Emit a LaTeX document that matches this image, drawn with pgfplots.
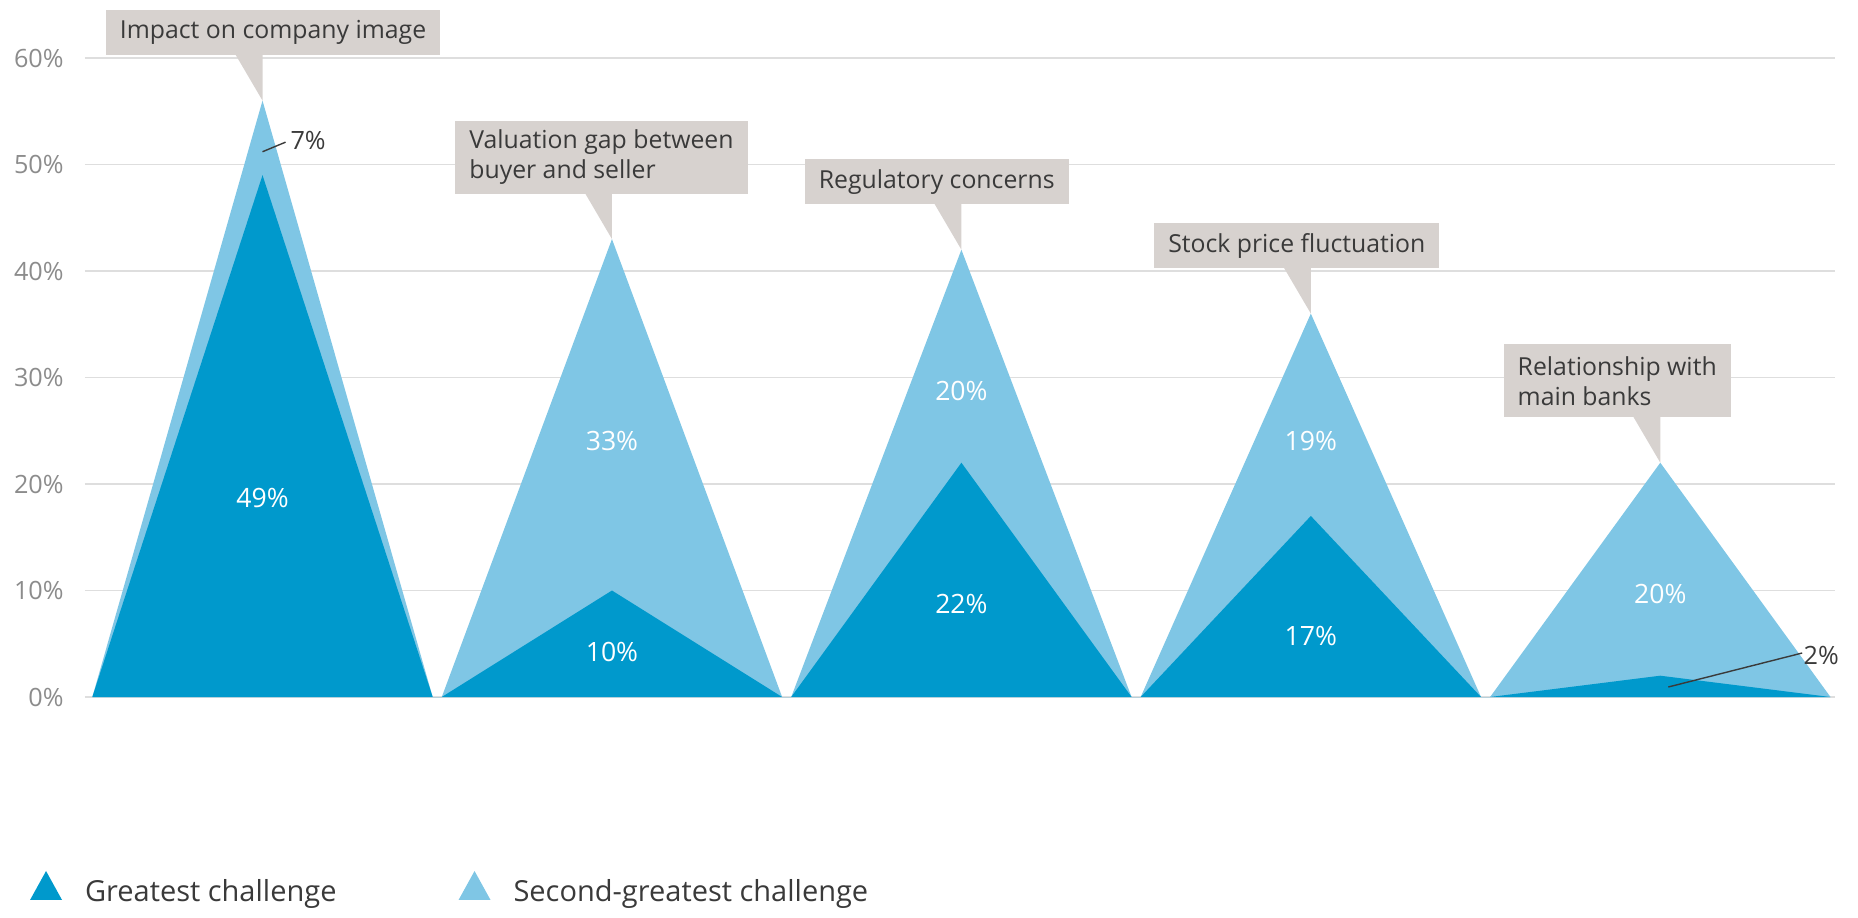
\documentclass[border=0pt]{standalone}
\usepackage{fontspec}
\setmainfont{Open Sans}
\usepackage{pgfplots}
\pgfplotsset{compat=1.18}
\definecolor{darkblue}{HTML}{0099CC}
\definecolor{lightblue}{HTML}{7FC6E5}
\definecolor{callout}{HTML}{D7D2CF}
\definecolor{ticklab}{HTML}{8C8C8C}
\definecolor{txt}{HTML}{3A3A3A}
\definecolor{gridc}{HTML}{DEDEDE}
\tikzset{
  cbox/.style={anchor=south west, fill=callout, text=txt, font=\fontsize{12.4}{15}\selectfont,
    align=left, inner xsep=7pt, inner ysep=0pt, minimum height=22.5pt, xshift=-78.5pt, yshift=22.5pt},
  vlab/.style={text=white, font=\fontsize{13.3}{15}\selectfont, inner sep=0pt},
  olab/.style={text=txt, font=\fontsize{12.6}{14}\selectfont, inner sep=0pt, anchor=west}
}
\newcommand{\pointer}[2]{%
  \fill[callout] (axis cs:#1,#2) -- ([yshift=23pt]axis cs:#1,#2) -- ([xshift=-13.5pt,yshift=23pt]axis cs:#1,#2) -- cycle;}
\begin{document}
\begin{tikzpicture}
\useasboundingbox (0,0) rectangle (929pt,458.5pt);
\begin{axis}[
  at={(42.5pt,110pt)}, anchor=south west,
  scale only axis, width=875pt, height=319.5pt,
  xmin=-0.508, xmax=4.5, ymin=0, ymax=60,
  clip=false,
  axis line style={draw=none},
  major tick style={draw=none},
  xtick=\empty,
  ytick={0,10,...,60},
  ymajorgrids, grid style={gridc, line width=0.8pt},
  /pgf/number format/assume math mode=true,
  yticklabel={\pgfmathprintnumber{\tick}\%},
  yticklabel style={font=\fontsize{12.6}{14}\selectfont, text=ticklab, inner sep=0pt, xshift=-10.5pt},
  legend image code/.code={\fill[#1] (0pt,-4.25pt) -- (8pt,10.25pt) -- (16pt,-4.25pt) -- cycle;},
  legend style={at={(axis description cs:-0.0314,-0.2723)}, anchor=north west,
    draw=none, fill=none, inner sep=0pt, outer sep=0pt,
    font=\fontsize{14.5}{17}\selectfont, text=txt,
    nodes={inner sep=0pt},
    /tikz/every odd column/.append style={column sep=11.5pt},
    /tikz/every even column/.append style={column sep=61pt}},
  legend columns=2, legend cell align=left,
]
% Greatest + second-greatest (total height)
\addplot[fill=lightblue, draw=none, forget plot] coordinates {
  (-0.487,0) (0,56) (0.487,0) (0.513,0) (1,43) (1.487,0) (1.513,0) (2,42) (2.487,0)
  (2.513,0) (3,36) (3.487,0) (3.513,0) (4,22) (4.487,0)} \closedcycle;
% Greatest challenge
\addplot[fill=darkblue, draw=none, forget plot] coordinates {
  (-0.487,0) (0,49) (0.487,0) (0.513,0) (1,10) (1.487,0) (1.513,0) (2,22) (2.487,0)
  (2.513,0) (3,17) (3.487,0) (3.513,0) (4,2) (4.487,0)} \closedcycle;

\addlegendimage{fill=darkblue, draw=none}
\addlegendentry{Greatest challenge}
\addlegendimage{fill=lightblue, draw=none}
\addlegendentry{Second-greatest challenge}

% value labels
\node[vlab] at (axis cs:0,18.7) {49\%};
\node[vlab] at (axis cs:1,24) {33\%};
\node[vlab] at (axis cs:1,4.2) {10\%};
\node[vlab] at (axis cs:2,28.7) {20\%};
\node[vlab] at (axis cs:2,8.7) {22\%};
\node[vlab] at (axis cs:3,24) {19\%};
\node[vlab] at (axis cs:3,5.7) {17\%};
\node[vlab] at (axis cs:4,9.7) {20\%};

% leader labels
\draw[txt, line width=0.7pt] (axis cs:0,51.2) -- (axis cs:0.066,52.1);
\node[olab] at (axis cs:0.079,52.3) {7\%};
\draw[txt, line width=0.7pt] (axis cs:4.023,0.94) -- (axis cs:4.406,4.13);
\node[olab] at (axis cs:4.409,3.94) {2\%};

% callouts
\pointer{0}{56}
\node[cbox] at (axis cs:0,56) {Impact on company image};
\pointer{1}{43}
\node[cbox, minimum height=36.5pt] at (axis cs:1,43) {Valuation gap between\\buyer and seller};
\pointer{2}{42}
\node[cbox] at (axis cs:2,42) {Regulatory concerns};
\pointer{3}{36}
\node[cbox] at (axis cs:3,36) {Stock price fluctuation};
\pointer{4}{22}
\node[cbox, minimum height=36.5pt] at (axis cs:4,22) {Relationship with\\main banks};
\end{axis}
\end{tikzpicture}
\end{document}
